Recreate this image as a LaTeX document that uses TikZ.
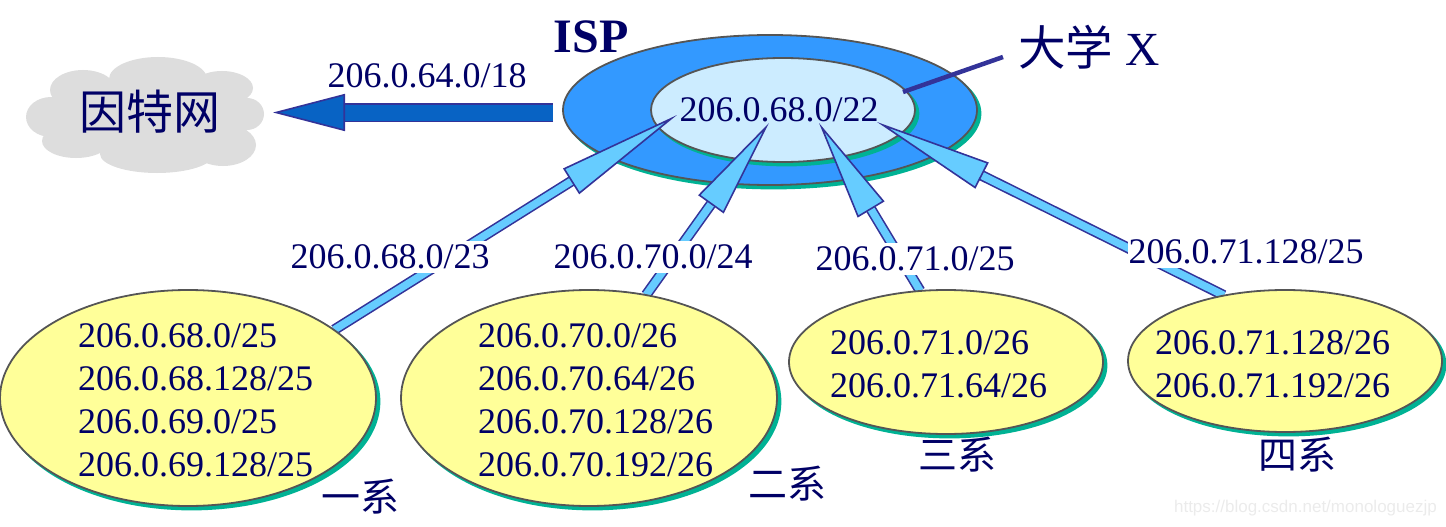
\documentclass[tikz,border=0pt]{standalone}
\usepackage{fontspec}
\setmainfont{Liberation Serif}
\newfontfamily\cjk{Noto Sans CJK SC}
\newfontfamily\marksf{Liberation Sans}
\usetikzlibrary{shapes.geometric,shadows,arrows.meta}
\definecolor{inktext}{HTML}{000066}
\definecolor{inkline}{HTML}{333399}
\definecolor{ringgray}{HTML}{555555}
\definecolor{shadowgreen}{HTML}{00B294}
\definecolor{ispblue}{HTML}{3399FF}
\definecolor{unifill}{HTML}{CCECFF}
\definecolor{deptfill}{HTML}{FFFF99}
\definecolor{shaftblue}{HTML}{66CCFF}
\definecolor{bigblue}{HTML}{0863C4}
\definecolor{cloudgray}{HTML}{DDDDDD}
\begin{document}
\begin{tikzpicture}[x=1pt,y=-1pt,
  blob/.style={ellipse,draw=ringgray,line width=1.8pt,inner sep=0pt,
    copy shadow={shadow xshift=3.5pt,shadow yshift=-3.5pt,fill=shadowgreen,draw=shadowgreen}},
  addr/.style={text=inktext,font=\fontsize{36}{43}\selectfont,inner sep=0pt},
  addrbg/.style={addr,fill=white,inner xsep=1pt,inner ysep=4pt},
  hanzi/.style={text=inktext,font=\fontsize{39}{44}\selectfont\cjk,inner sep=0pt},
  subarrow/.style={draw=inkline,line width=1.6pt,double=shaftblue,double distance=7.5pt},
]
\useasboundingbox (0,0) rectangle (1446,527);
% cloud
\fill[cloudgray] (51,117) ellipse (25 and 20) (83,90) ellipse (33 and 20)
  (158,79) ellipse (49 and 22) (222,88) ellipse (31 and 17) (247,114) ellipse (17 and 16)
  (223,145) ellipse (33 and 21) (157,154) ellipse (57 and 19) (76,141) ellipse (34 and 17)
  (145,115) ellipse (100 and 38);
\node[hanzi,font=\fontsize{47}{50}\selectfont\cjk] (inet) at (150,112) {因特网};
% ISP and university
\node[blob,fill=ispblue,minimum width=414pt,minimum height=150pt] (isp) at (770,110) {};
\node[blob,fill=unifill,minimum width=264pt,minimum height=104pt] (univ) at (783,110) {};
\node[addr] (univaddr) at (779,110) {206.0.68.0/22};
\node[text=inktext,font=\fontsize{48}{50}\selectfont\bfseries,inner sep=0pt] (isplabel) at (591,37) {ISP};
\node[text=inktext,anchor=west,font=\fontsize{47.5}{50}\selectfont,inner sep=0pt] (univlabel) at (1018,47) {{\cjk 大学} X};
\coordinate (unistart) at (903,92);
\coordinate (unitick) at (1003,57);
\draw[inkline,line width=4.5pt] (unistart) -- (unitick);
% departments
\coordinate (tipa) at (677,115);
\coordinate (tipb) at (769,123);
\coordinate (tipc) at (819,123);
\coordinate (tipd) at (877,122);
\node[ellipse,minimum width=376pt,minimum height=216pt,inner sep=0pt] (depta) at (188,398) {};
\node[ellipse,minimum width=376pt,minimum height=216pt,inner sep=0pt] (deptb) at (589,398) {};
\node[ellipse,minimum width=314pt,minimum height=144pt,inner sep=0pt] (deptc) at (946,362) {};
\node[ellipse,minimum width=314pt,minimum height=142pt,inner sep=0pt] (deptd) at (1285,361) {};
\draw[subarrow,-{Triangle[length=125pt,width=30pt,fill=shaftblue,line width=1.6pt]}] (depta.25) -- (tipa);
\draw[subarrow,-{Triangle[length=100pt,width=31pt,fill=shaftblue,line width=1.6pt]}] (deptb.61) -- (tipb);
\draw[subarrow,-{Triangle[length=101pt,width=31pt,fill=shaftblue,line width=1.6pt]}] (deptc.110) -- (tipc);
\draw[subarrow,-{Triangle[length=118pt,width=29pt,fill=shaftblue,line width=1.6pt]}] (deptd.133) -- (tipd);
\node[blob,fill=deptfill,minimum width=376pt,minimum height=216pt] at (depta) {};
\node[blob,fill=deptfill,minimum width=376pt,minimum height=216pt] at (deptb) {};
\node[blob,fill=deptfill,minimum width=314pt,minimum height=144pt] at (deptc) {};
\node[blob,fill=deptfill,minimum width=314pt,minimum height=142pt] at (deptd) {};
\node[addr,anchor=west,align=left] (addra) at (78,400) {206.0.68.0/25\\206.0.68.128/25\\206.0.69.0/25\\206.0.69.128/25};
\node[addr,anchor=west,align=left] (addrb) at (478,400) {206.0.70.0/26\\206.0.70.64/26\\206.0.70.128/26\\206.0.70.192/26};
\node[addr,anchor=west,align=left] (addrc) at (830,364) {206.0.71.0/26\\206.0.71.64/26};
\node[addr,anchor=west,align=left] (addrd) at (1155,364) {206.0.71.128/26\\206.0.71.192/26};
% arrow labels
\node[addrbg] (laba) at (390,257) {206.0.68.0/23};
\node[addrbg] (labb) at (653,257) {206.0.70.0/24};
\node[addrbg] (labc) at (915,259) {206.0.71.0/25};
\node[addrbg] (labd) at (1246,252) {206.0.71.128/25};
% uplink
\coordinate (isptail) at (553,112.5);
\coordinate (inettip) at (273,112.5);
\draw[draw=inkline,line width=1.6pt,double=bigblue,double distance=16pt,
  -{Triangle[length=72pt,width=37pt,fill=bigblue,line width=1.6pt]}] (isptail) -- (inettip);
\node[addr] (uplabel) at (427,76) {206.0.64.0/18};
\node[hanzi] (namea) at (360,497) {一系};
\node[hanzi] (nameb) at (787,484) {二系};
\node[hanzi] (namec) at (957,455) {三系};
\node[hanzi] (named) at (1297,455) {四系};
\node[anchor=east,text=black!8,font=\fontsize{17}{20}\selectfont\marksf,inner sep=0pt] (mark) at (1437,508) {https://blog.csdn.net/monologuezjp};
\end{tikzpicture}
\end{document}
